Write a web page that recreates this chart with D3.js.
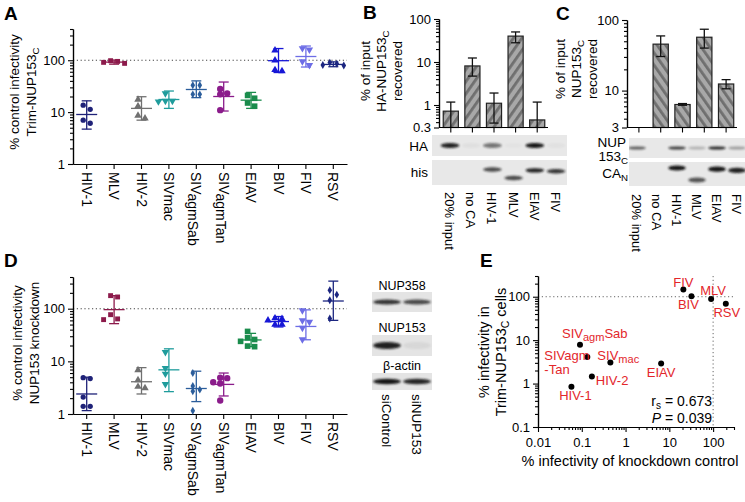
<!DOCTYPE html>
<html><head><meta charset="utf-8">
<script src="https://cdn.jsdelivr.net/npm/d3@7"></script>
<style>body{margin:0;background:#fff}</style>
</head><body>
<svg id="c" width="745" height="502"></svg>
<script>
// ---------------- DATA ----------------
const viruses = ["HIV-1","MLV","HIV-2","SIVmac","SIVagmSab","SIVagmTan","EIAV","BIV","FIV","RSV"];
const virusColors = ["#1f2278","#8c1a4b","#707070","#1f9c9c","#2b5d9b","#8b1c8b","#1a8c4c","#1717d6","#6d6de6","#1c2680"];
const virusSymbols = ["circle","square","triangle","triangleDown","diamond","circle","square","triangle","triangleDown","diamond"];

// Panel A: % control infectivity, Trim-NUP153C
const trimPoints = [[13.6,11.3,7.0,6.1],[98,91,87,95],[17.5,13,8.6,7.6],[23,16.5,16,16.5],[33,33,22,22],
                    [23,22,28,10.9],[21,18.5,15,13],[155,65,62,100],[170,160,95,80],[90,86,79,81]];
const trimMean = [9.0,92,11.8,17.5,27.3,20,17,98,118,83];
const trimLo   = [4.7,84,7.0,11.8,19,10.5,11.8,58,74,75];
const trimHi   = [16.5,101,19.8,25.5,40,38,24,168,188,93];

// Panel D: % control infectivity, NUP153 knockdown
const kdPoints = [[4.9,4.7,2.1,1.4,1.4],[177,167,77,62,64],[6.8,4.4,3.3,3.1],[15,7.4,5.8,3.7],[6.0,3.4,2.9,2.7,1.15],
                  [4.8,4.9,3.8,4.0,1.8],[37,28,26,24,19,19.5],[66,64,60,50,50],[93,60,56,43,26],[225,185,145,65]];
const kdMean = [2.4,96,4.1,6.9,3.05,3.65,25.5,57,46,140];
const kdLo   = [1.16,52,2.4,2.66,1.72,2.2,19,45,25.7,60];
const kdHi   = [5.0,177,7.6,17.3,6.5,6.0,34,71,95,334];

// Panels B and C: pull-down
const pullLanes = ["20% input","no CA","HIV-1","MLV","EIAV","FIV"];
const pullBars  = ["no CA","HIV-1","MLV","EIAV","FIV"];
const haRecovered = [0.72,8.1,1.1,40,0.45];
const haLo = [0.2,4.7,0.38,28,0.2];
const haHi = [1.17,12.4,1.9,50,1.17];
const nupRecovered = [null,45.5,6.35,57,12.4];
const nupLo = [null,30.4,6.2,40,10.6];
const nupHi = [null,59.5,6.55,74,14.3];
const bTicks = [0.3,1,10,100];
const cTicks = [3,10,100];
// blot band intensities per lane (0..1) and CA-N apparent size (kDa)
const haBlot  = [0.95,0.04,0.55,0.02,1.0,0.03];
const hisBlot = [0,0,0.75,0.75,0.95,0.85];
const nupBlot = [0.65,0,0.8,0.25,0.9,0.35];
const caNBlot = [0,0,1.0,0.7,1.0,0.95];
const caNSize = [null,null,17,13,16.6,16.2];

// Panel D blot
const siLanes = ["siControl","siNUP153"];
const nup358Blot = [0.85,0.75];
const nup153Blot = [0.95,0.06];
const actinBlot = [1.0,0.92];

// Panel E: correlation
const corrNames = ["FIV","BIV","MLV","RSV","SIVagmSab","SIVagmTan","SIVmac","EIAV","HIV-2","HIV-1"];
const corrKd   = [20.9,32,90,195,0.091,0.134,0.45,6.5,0.17,0.058];
const corrTrim = [146,102,89,69,7.8,4.07,3.05,2.9,1.45,0.84];
const logTicks = [0.01,0.1,1,10,100];
const logTickLabels = ["0.01","0.1","1","10","100"];

// ---------------- DRAWING ----------------
const FONT = "'Liberation Sans', Arial, Helvetica, sans-serif";
const svg = d3.select("#c").attr("font-family", FONT);
const defs = svg.append("defs");
defs.append("filter").attr("id","blur").attr("x","-50%").attr("y","-100%").attr("width","200%").attr("height","300%")
  .append("feGaussianBlur").attr("stdDeviation",1.1);
function hatch(id, dir){
  const p = defs.append("pattern").attr("id",id).attr("patternUnits","userSpaceOnUse")
    .attr("width",7).attr("height",7).attr("patternTransform",`rotate(${dir})`);
  p.append("rect").attr("width",7).attr("height",7).attr("fill","#a8a8a8");
  p.append("rect").attr("width",2.8).attr("height",7).attr("fill","#6f6f6f");
}
hatch("hatchB", 35);
hatch("hatchC", -35);

function rich(t, segs, size){
  let cur = 0;
  segs.forEach(s=>{
    const [txt, sh=0, sc=1] = Array.isArray(s) ? s : [s,0,1];
    t.append("tspan").attr("dy", sh-cur).attr("font-size", size*sc).text(txt);
    cur = sh;
  });
  return t;
}
function vlabel(g, x, y, segs, size, rot=-90, anchor="middle"){
  const t = g.append("text").attr("transform",`translate(${x},${y}) rotate(${rot})`)
    .attr("text-anchor",anchor).attr("font-size",size).attr("fill","#000");
  return rich(t, segs, size);
}
function styleAxis(a, fs){
  a.attr("font-family",null).attr("font-size",null);
  a.selectAll("path.domain").attr("stroke","#000").attr("stroke-width",1.2);
  a.selectAll(".tick line").attr("stroke","#000").attr("stroke-width",1.1);
  a.selectAll("text").attr("font-size",fs).attr("fill","#000").attr("font-family",FONT);
}
function logAll(lo, hi){
  const out = [];
  for(let e=Math.floor(Math.log10(lo))-1; e<=Math.ceil(Math.log10(hi)); e++)
    for(let m=1;m<10;m++){ const v=+(m*Math.pow(10,e)).toPrecision(6); if(v>=lo*0.999 && v<=hi*1.001) out.push(v); }
  return out;
}
function logAxis(g, scale, orient, pos, majors, labels, fs){
  const [lo,hi] = scale.domain();
  const minors = logAll(lo,hi).filter(v=>!majors.some(m=>Math.abs(m-v)/v<1e-6));
  const mk = orient==="left" ? d3.axisLeft : d3.axisBottom;
  const tr = orient==="left" ? `translate(${pos},0)` : `translate(0,${pos})`;
  const a1 = g.append("g").attr("transform",tr).call(mk(scale).tickValues(minors).tickSize(3).tickFormat("").tickSizeOuter(0));
  styleAxis(a1, fs);
  const a2 = g.append("g").attr("transform",tr).call(mk(scale).tickValues(majors).tickSize(5).tickPadding(3).tickFormat((d,i)=>labels[i]).tickSizeOuter(0));
  styleAxis(a2, fs);
  return a2;
}
function symbolPath(kind, size){
  const map = {circle:d3.symbolCircle, square:d3.symbolSquare, triangle:d3.symbolTriangle, triangleDown:d3.symbolTriangle, diamond:d3.symbolDiamond};
  return d3.symbol().type(map[kind]).size(size)();
}
function swarm(vals, y, step, dist){
  const idx = vals.map((v,i)=>i).sort((a,b)=>vals[b]-vals[a]);
  const placed = [], off = [];
  const cands = [-step*0.5, step*0.5, -step*1.5, step*1.5, 0];
  idx.forEach((i,k)=>{
    const yy = y(vals[i]);
    let chosen = cands[k%2];
    for(const dx of cands){
      if(placed.every(p=>Math.hypot(p.x-dx,p.y-yy)>=dist)){ chosen = dx; break; }
    }
    off[i] = chosen; placed.push({x:chosen,y:yy});
  });
  return off;
}
function letter(txt, x, y){
  svg.append("text").attr("x",x).attr("y",y).attr("font-size",19).attr("font-weight","bold").text(txt);
}

// ----- scatter panels A and D -----
function scatterPanel(o){
  const g = svg.append("g");
  const x = d3.scaleBand().domain(viruses).range([73,347]);
  const y = d3.scaleLog().domain([1,400]).range([o.yBottom, o.yTop]);
  g.append("line").attr("x1",73).attr("x2",347).attr("y1",y(100)).attr("y2",y(100))
    .attr("stroke","#444").attr("stroke-width",1.1).attr("stroke-dasharray","1.2,2.6");
  logAxis(g, y, "left", 73, [1,10,100], ["1","10","100"], 13);
  const xa = g.append("g").attr("transform",`translate(0,${o.yBottom})`)
    .call(d3.axisBottom(x).tickSize(5).tickFormat("").tickSizeOuter(0));
  styleAxis(xa, 13);
  viruses.forEach(v=>{
    const cx = x(v)+x.bandwidth()/2;
    const segs = v.startsWith("SIVagm") ? ["SIV",[v.slice(3),3]] : [v];
    vlabel(g, cx-5, o.yBottom+8, segs, 14, 90, "start");
  });
  o.lines.forEach((segs,i)=> vlabel(g, o.labelX[i], o.labelY, segs, 13.5));
  viruses.forEach((v,i)=>{
    const cx = x(v)+x.bandwidth()/2, col = virusColors[i];
    const gg = g.append("g").attr("stroke",col).attr("stroke-width",1.3);
    gg.append("line").attr("x1",cx).attr("x2",cx).attr("y1",y(o.lo[i])).attr("y2",y(o.hi[i]));
    [o.lo[i],o.hi[i]].forEach(val=> gg.append("line").attr("x1",cx-5).attr("x2",cx+5).attr("y1",y(val)).attr("y2",y(val)));
    gg.append("line").attr("x1",cx-10.5).attr("x2",cx+10.5).attr("y1",y(o.mean[i])).attr("y2",y(o.mean[i]));
    const off = swarm(o.points[i], y, 7, 5);
    const kind = virusSymbols[i];
    const size = (kind==="diamond") ? 18 : (v==="EIAV"||v==="SIVagmTan") ? 32 : (kind==="circle") ? 22 : 24;
    o.points[i].forEach((val,j)=>{
      g.append("path").attr("d",symbolPath(kind,size))
        .attr("transform",`translate(${cx+off[j]},${y(val)})${kind==="triangleDown"?" rotate(180)":""}`)
        .attr("fill",col);
    });
  });
}
letter("A", 4, 20);
scatterPanel({yTop:29, yBottom:164, points:trimPoints, mean:trimMean, lo:trimLo, hi:trimHi,
  lines:[["% control infectivity"],["Trim-NUP153",["C",3,0.72]]], labelX:[19,36], labelY:92});
letter("D", 4, 267);
scatterPanel({yTop:277, yBottom:414, points:kdPoints, mean:kdMean, lo:kdLo, hi:kdHi,
  lines:[["% control infectivity"],["NUP153 knockdown"]], labelX:[22,39], labelY:343});

// ----- bar panels B and C -----
function barPanel(o){
  const g = svg.append("g");
  const x = d3.scaleBand().domain(pullBars).range([o.x0,o.x1]).paddingInner(0.3).paddingOuter(0.15);
  const y = d3.scaleLog().domain(o.domain).range([127.5, o.yTop]);
  o.values.forEach((v,i)=>{
    if(v==null) return;
    const c = pullBars[i], bx = x(c);
    g.append("rect").attr("x",bx).attr("width",x.bandwidth()).attr("y",y(v)).attr("height",y(o.domain[0])-y(v))
      .attr("fill",`url(#${o.hatch})`).attr("stroke","#222").attr("stroke-width",1.2);
  });
  o.values.forEach((v,i)=>{
    if(v==null) return;
    const cx = x(pullBars[i])+x.bandwidth()/2;
    const lo = Math.max(o.lo[i], o.domain[0]);
    const eg = g.append("g").attr("stroke","#111").attr("stroke-width",1.3);
    eg.append("line").attr("x1",cx).attr("x2",cx).attr("y1",y(lo)).attr("y2",y(o.hi[i]));
    eg.append("line").attr("x1",cx-4.5).attr("x2",cx+4.5).attr("y1",y(o.hi[i])).attr("y2",y(o.hi[i]));
    if(o.lo[i]>=o.domain[0]) eg.append("line").attr("x1",cx-4.5).attr("x2",cx+4.5).attr("y1",y(lo)).attr("y2",y(lo));
  });
  logAxis(g, y, "left", o.x0-1, o.ticks, o.ticks.map(String), 13);
  const xa = g.append("g").attr("transform",`translate(0,127.5)`)
    .call(d3.axisBottom(x).tickSize(5).tickFormat("").tickSizeOuter(0));
  styleAxis(xa, 13);
  xa.select("path.domain").attr("d",`M${o.x0-1},0H${o.x1}`);
  o.lines.forEach((segs,i)=> vlabel(g, o.labelX[i], o.labelY, segs, 13.5));
  return x;
}
function blot(o){
  const g = svg.append("g");
  const step = o.lane.step();
  const clipId = "clip"+Math.round(o.bx0);
  defs.append("clipPath").attr("id",clipId).append("rect").attr("x",o.bx0).attr("y",0).attr("width",o.bx1-o.bx0).attr("height",502);
  const bg = g.append("g").attr("clip-path",`url(#${clipId})`);
  o.rows.forEach(r=>{
    bg.append("rect").attr("x",o.bx0).attr("width",o.bx1-o.bx0).attr("y",r.y0).attr("height",r.y1-r.y0).attr("fill","#e8e8e8");
    r.vals.forEach((v,i)=>{
      if(v<=0) return;
      const cy = r.bandY ? r.bandY(i) : (r.y0+r.y1)/2;
      bg.append("ellipse").attr("cx",o.lane(o.lanes[i])).attr("cy",cy).attr("rx",step*0.44).attr("ry",r.th)
        .attr("fill","#141414").attr("opacity",v).attr("filter","url(#blur)");
    });
  });
  o.lanes.forEach(l=> vlabel(g, o.lane(l)-5, o.labelY, [l], 13, 90, "start"));
}

letter("B", 363, 19);
barPanel({x0:440, x1:548, yTop:19, domain:[0.3,100], values:haRecovered, lo:haLo, hi:haHi, ticks:bTicks, hatch:"hatchB",
  lines:[["% of input"],["HA-NUP153",["C",3,0.72]],["recovered"]], labelX:[370,386,402], labelY:71});
const laneB = d3.scalePoint().domain(pullLanes).range([450, 556]);
const sizeB = d3.scaleLinear().domain([13,17]).range([178,169.5]);
blot({lanes:pullLanes, lane:laneB, bx0:432, bx1:567, labelY:192, rows:[
  {y0:135, y1:156, vals:haBlot, th:2.6},
  {y0:160, y1:185, vals:hisBlot, th:2.2, bandY:i=>sizeB(caNSize[i])}
]});
svg.append("text").attr("x",428).attr("y",151).attr("text-anchor","end").attr("font-size",13.5).text("HA");
svg.append("text").attr("x",428).attr("y",177).attr("text-anchor","end").attr("font-size",13.5).text("his");

letter("C", 556, 20);
barPanel({x0:628, x1:737, yTop:20, domain:[3,100], values:nupRecovered, lo:nupLo, hi:nupHi, ticks:cTicks, hatch:"hatchC",
  lines:[["% of input"],["NUP153",["C",3,0.72]],["recovered"]], labelX:[565,581,597], labelY:69});
const laneC = d3.scalePoint().domain(pullLanes).range([637, 737]);
const sizeC = d3.scaleLinear().domain([13,17]).range([180,168]);
blot({lanes:pullLanes, lane:laneC, bx0:629, bx1:745, labelY:194, rows:[
  {y0:138, y1:158, vals:nupBlot, th:1.6},
  {y0:162, y1:186, vals:caNBlot, th:2.6, bandY:i=>sizeC(caNSize[i])}
]});
svg.append("text").attr("x",626).attr("y",147).attr("text-anchor","end").attr("font-size",13.5).text("NUP");
rich(svg.append("text").attr("x",628).attr("y",161).attr("text-anchor","end").attr("font-size",13.5),["153",["C",3,0.72]],13.5);
rich(svg.append("text").attr("x",628).attr("y",178).attr("text-anchor","end").attr("font-size",13.5),["CA",["N",3,0.72]],13.5);

// ----- D blot -----
const laneD = d3.scaleBand().domain(siLanes).range([372,432]);
(function(){
  const g = svg.append("g");
  const rows = [{name:"NUP358", ly:290, y0:292, y1:312, vals:nup358Blot, th:2.6},
                {name:"NUP153", ly:332, y0:335, y1:356, vals:nup153Blot, th:3.4},
                {name:"β-actin", ly:370, y0:373, y1:390, vals:actinBlot, th:2.8}];
  rows.forEach(r=>{
    g.append("text").attr("x",402).attr("y",r.ly).attr("text-anchor","middle").attr("font-size",12.5).text(r.name);
    g.append("rect").attr("x",372).attr("width",60).attr("y",r.y0).attr("height",r.y1-r.y0).attr("fill","#e4e4e4");
    r.vals.forEach((v,i)=>{
      g.append("ellipse").attr("cx",laneD(siLanes[i])+laneD.bandwidth()/2).attr("cy",(r.y0+r.y1)/2)
        .attr("rx",laneD.bandwidth()*0.46).attr("ry",r.th).attr("fill","#141414").attr("opacity",v).attr("filter","url(#blur)");
    });
  });
  siLanes.forEach(l=> vlabel(g, laneD(l)+laneD.bandwidth()/2-5, 394, [l], 13.5, 90, "start"));
})();

// ----- Panel E -----
letter("E", 480, 267);
(function(){
  const g = svg.append("g");
  const x = d3.scaleLog().domain([0.01,300]).range([538,734]);
  const y = d3.scaleLog().domain([0.1,300]).range([427,276]);
  g.append("line").attr("x1",538).attr("x2",734).attr("y1",y(100)).attr("y2",y(100))
    .attr("stroke","#666").attr("stroke-width",1).attr("stroke-dasharray","1.2,2.6");
  g.append("line").attr("x1",x(100)).attr("x2",x(100)).attr("y1",276).attr("y2",427)
    .attr("stroke","#666").attr("stroke-width",1).attr("stroke-dasharray","1.2,2.6");
  logAxis(g, y, "left", 538, [0.1,1,10,100], ["0.1","1","10","100"], 13);
  const xa = logAxis(g, x, "bottom", 427, logTicks, logTickLabels, 13);
  xa.selectAll("text").attr("dy","0.9em");
  vlabel(g, 489, 352, ["% infectivity in"], 14.5);
  vlabel(g, 506, 352, ["Trim-NUP153",["C",3,0.72]," cells"], 14.5);
  g.append("text").attr("x",630).attr("y",466).attr("text-anchor","middle").attr("font-size",14.5).text("% infectivity of knockdown control");
  const red = "#e3262b";
  const lab = {
    "FIV":{dx:0,dy:-3,a:"middle",segs:["FIV"]},
    "BIV":{dx:-3,dy:13,a:"middle",segs:["BIV"]},
    "MLV":{dx:2,dy:-4,a:"middle",segs:["MLV"]},
    "RSV":{dx:1,dy:13,a:"middle",segs:["RSV"]},
    "SIVagmSab":{dx:-18,dy:-7,a:"start",segs:["SIV",["agm",3.5,0.85],["Sab",0]]},
    "SIVagmTan":{dx:-43,dy:3,a:"start",segs:["SIVagm"],segs2:["-Tan"]},
    "SIVmac":{dx:-13,dy:-3,a:"start",segs:["SIV",["mac",3.5,0.85]]},
    "EIAV":{dx:0,dy:14,a:"middle",segs:["EIAV"]},
    "HIV-2":{dx:4,dy:8,a:"start",segs:["HIV-2"]},
    "HIV-1":{dx:4,dy:13,a:"middle",segs:["HIV-1"]}
  };
  corrNames.forEach((n,i)=>{
    const px = x(corrKd[i]), py = y(corrTrim[i]);
    g.append("circle").attr("cx",px).attr("cy",py).attr("r",3).attr("fill","#000");
    const L = lab[n];
    rich(g.append("text").attr("x",px+L.dx).attr("y",py+L.dy).attr("text-anchor",L.a).attr("font-size",13).attr("fill",red), L.segs, 13);
    if(L.segs2) rich(g.append("text").attr("x",px+L.dx).attr("y",py+L.dy+14).attr("text-anchor",L.a).attr("font-size",13).attr("fill",red), L.segs2, 13);
  });
  rich(g.append("text").attr("x",712).attr("y",406).attr("text-anchor","end").attr("font-size",14),["r",["s",3,0.72],[" = 0.673",0]],14);
  const pt = g.append("text").attr("x",712).attr("y",423).attr("text-anchor","end").attr("font-size",14);
  pt.append("tspan").attr("font-style","italic").text("P");
  pt.append("tspan").text(" = 0.039");
})();
</script>
</body></html>
